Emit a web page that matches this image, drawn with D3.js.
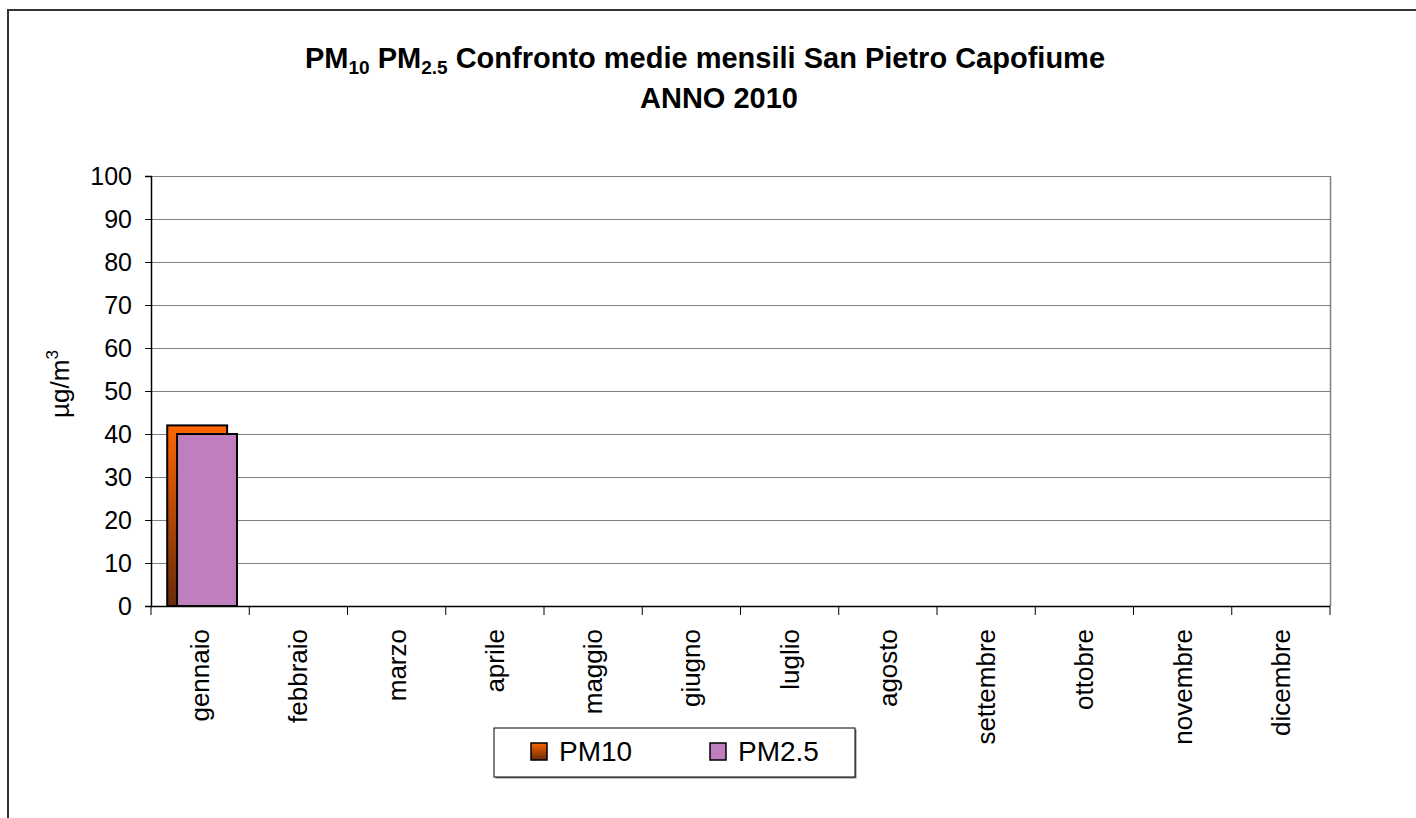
<!DOCTYPE html>
<html>
<head>
<meta charset="utf-8">
<script src="https://cdn.jsdelivr.net/npm/d3@7"></script>
<style>
  body { margin: 0; background: #fff; }
  svg text { font-family: Arial, "Liberation Sans", sans-serif; }
</style>
</head>
<body>
<div id="chart"></div>
<script>
// data
const months = ["gennaio", "febbraio", "marzo", "aprile", "maggio", "giugno",
                "luglio", "agosto", "settembre", "ottobre", "novembre", "dicembre"];
const seriesNames = ["PM10", "PM2.5"];
const pm10 = [42, null, null, null, null, null, null, null, null, null, null, null];
const pm25 = [40, null, null, null, null, null, null, null, null, null, null, null];
const yTicks = [0, 10, 20, 30, 40, 50, 60, 70, 80, 90, 100];

const width = 1416, height = 818;
const margin = { top: 176, right: 86, bottom: 212, left: 151 };

let svg = d3.select("#chart").append("svg")
    .attr("width", width)
    .attr("height", height);

let defs = svg.append("defs");
let grad = defs.append("linearGradient")
    .attr("id", "pm10grad")
    .attr("x1", 0).attr("y1", 0).attr("x2", 0).attr("y2", 1);
grad.append("stop").attr("offset", "0%").attr("stop-color", "#ff6600");
grad.append("stop").attr("offset", "100%").attr("stop-color", "#662a0a");

const fills = ["url(#pm10grad)", "#bf7fbf"];

// outer chart frame
svg.append("path")
    .attr("d", `M8,${height + 5} L8,10 L${width + 5},10`)
    .attr("fill", "none")
    .attr("stroke", "#333")
    .attr("stroke-width", 2);

let x = d3.scaleBand()
    .domain(months)
    .range([margin.left, width - margin.right]);

let y = d3.scaleLinear()
    .domain([0, 100])
    .range([height - margin.bottom, margin.top]);

// gridlines
svg.append("g")
    .selectAll("line")
    .data(yTicks.slice(1))
    .enter()
    .append("line")
    .attr("x1", margin.left)
    .attr("x2", width - margin.right)
    .attr("y1", d => y(d) + 0.5)
    .attr("y2", d => y(d) + 0.5)
    .attr("stroke", "#808080")
    .attr("stroke-width", 1);

// right border of plot area
svg.append("line")
    .attr("x1", width - margin.right + 0.5)
    .attr("x2", width - margin.right + 0.5)
    .attr("y1", margin.top)
    .attr("y2", height - margin.bottom)
    .attr("stroke", "#808080")
    .attr("stroke-width", 1.5);

// bars
const bw = x.bandwidth();
const series = [pm10, pm25];
series.forEach((vals, si) => {
    svg.append("g")
        .selectAll("rect")
        .data(months.map((m, i) => ({ m, v: vals[i] })).filter(d => d.v != null))
        .enter()
        .append("rect")
        .attr("x", d => x(d.m) + bw * (0.165 + si * 0.1))
        .attr("width", bw * 0.61)
        .attr("y", d => y(d.v))
        .attr("height", d => y(0) - y(d.v))
        .attr("fill", fills[si])
        .attr("stroke", "#000")
        .attr("stroke-width", 2);
});

// y axis
let yAxis = svg.append("g")
    .attr("transform", `translate(${margin.left},0)`)
    .call(d3.axisLeft(y).tickValues(yTicks).tickSize(6).tickPadding(13));
yAxis.select(".domain").attr("stroke", "#000").attr("stroke-width", 1.5);
yAxis.selectAll(".tick line").attr("stroke", "#000");
yAxis.selectAll("text").attr("font-size", 25).attr("fill", "#000");

// x axis (ticks between categories)
let xAxisG = svg.append("g")
    .attr("transform", `translate(0,${y(0)})`);
xAxisG.append("line")
    .attr("x1", margin.left).attr("x2", width - margin.right)
    .attr("y1", 0.5).attr("y2", 0.5)
    .attr("stroke", "#000").attr("stroke-width", 1.5);
let boundaries = months.map(m => x(m)).concat([x(months[months.length - 1]) + bw]);
xAxisG.selectAll(".xtick")
    .data(boundaries)
    .enter()
    .append("line")
    .attr("x1", d => d).attr("x2", d => d)
    .attr("y1", 0).attr("y2", 9)
    .attr("stroke", "#000");
xAxisG.selectAll(".xlabel")
    .data(months)
    .enter()
    .append("text")
    .attr("transform", d => `translate(${x(d) + bw / 2 + 9},23) rotate(-90)`)
    .attr("text-anchor", "end")
    .attr("font-size", 26)
    .attr("fill", "#000")
    .text(d => d);

// y axis title
let yt = svg.append("text")
    .attr("transform", "translate(69,384) rotate(-90)")
    .attr("text-anchor", "middle")
    .attr("font-size", 26)
    .attr("fill", "#000");
yt.append("tspan").text("µg/m");
yt.append("tspan").attr("font-size", 17).attr("dy", -11).text("3");

// title
let t1 = svg.append("text")
    .attr("x", 705).attr("y", 68)
    .attr("text-anchor", "middle")
    .attr("font-size", 29)
    .attr("font-weight", "bold")
    .attr("fill", "#000");
t1.append("tspan").text("PM");
t1.append("tspan").attr("font-size", 19).attr("dy", 6).text("10");
t1.append("tspan").attr("dy", -6).text(" PM");
t1.append("tspan").attr("font-size", 19).attr("dy", 6).text("2.5");
t1.append("tspan").attr("dy", -6).text(" Confronto medie mensili San Pietro Capofiume");

svg.append("text")
    .attr("x", 719).attr("y", 108)
    .attr("text-anchor", "middle")
    .attr("font-size", 29)
    .attr("font-weight", "bold")
    .attr("fill", "#000")
    .text("ANNO 2010");

// legend
let legend = svg.append("g").attr("transform", "translate(494,728)");
legend.append("rect")
    .attr("x", 1.5).attr("y", 1.5)
    .attr("width", 361).attr("height", 49)
    .attr("fill", "#808080");
legend.append("rect")
    .attr("width", 361).attr("height", 49)
    .attr("fill", "#fff")
    .attr("stroke", "#000");
let items = legend.selectAll(".item")
    .data(seriesNames)
    .enter()
    .append("g")
    .attr("transform", (d, i) => `translate(${37 + i * 179},15)`);
items.append("rect")
    .attr("width", 16).attr("height", 17)
    .attr("fill", (d, i) => fills[i])
    .attr("stroke", "#000")
    .attr("stroke-width", 1.5);
items.append("text")
    .attr("x", 28).attr("y", 18)
    .attr("font-size", 28)
    .attr("fill", "#000")
    .text(d => d);
</script>
</body>
</html>
